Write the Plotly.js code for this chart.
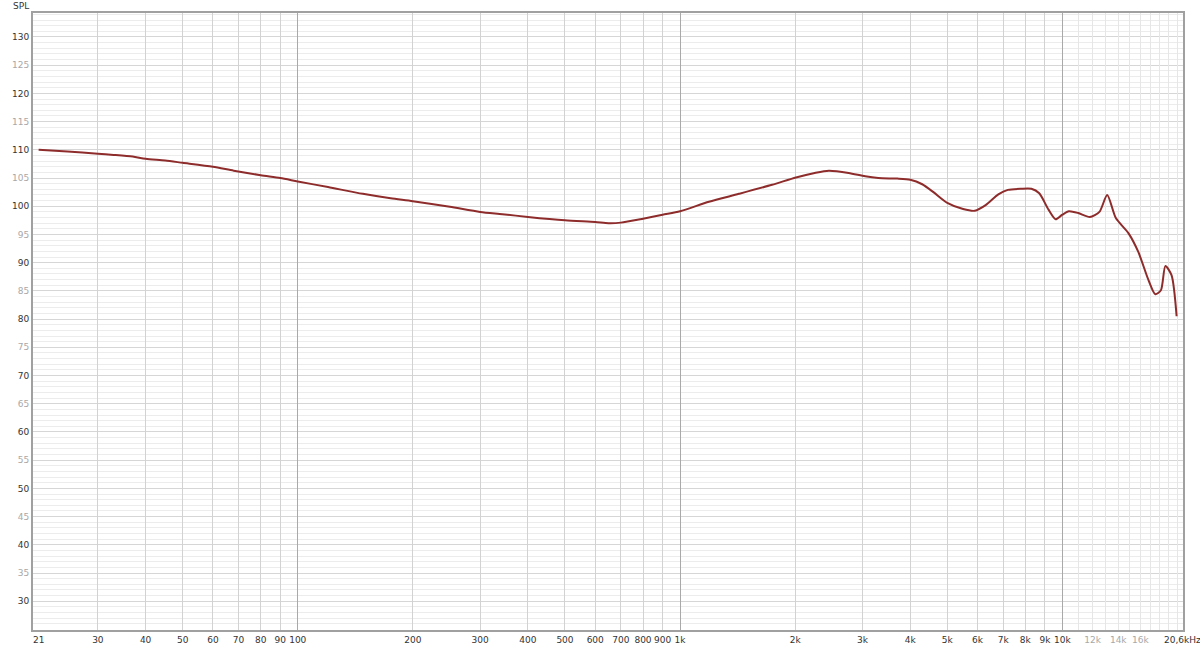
<!DOCTYPE html>
<html>
<head>
<meta charset="utf-8">
<script src="https://cdn.plot.ly/plotly-3.0.1.min.js"></script>
<style>
  html, body { margin: 0; padding: 0; background: #fff; }
  #fr { width: 1200px; height: 647px; }
</style>
</head>
<body>
<div id="fr"></div>
<script>
// frequency response
var freq = [21, 25, 30, 33, 37, 40, 45, 50, 60, 68, 80, 90, 100, 120, 148, 175, 200, 250, 300, 343,
    400, 500, 600, 650, 700, 800, 900, 1000, 1190, 1425, 1740, 2010, 2250, 2450, 2760, 3050, 3300,
    3700, 4000, 4300, 4600, 5000, 5500, 5900, 6300, 6800, 7200, 7800, 8300, 8700, 9200, 9600, 10000,
    10400, 11000, 11800, 12500, 13100, 13800, 14900, 15800, 16800, 17500, 18100, 18600, 19300, 19900];
var spl = [110.0, 109.7, 109.3, 109.1, 108.8, 108.4, 108.1, 107.7, 107.0, 106.3, 105.5, 105.0, 104.4,
    103.4, 102.2, 101.4, 100.9, 99.9, 99.0, 98.6, 98.1, 97.5, 97.2, 97.0, 97.1, 97.8, 98.5, 99.1,
    100.8, 102.2, 103.8, 105.1, 105.9, 106.3, 105.9, 105.3, 105.0, 104.9, 104.7, 103.9, 102.5, 100.6,
    99.5, 99.2, 100.2, 102.1, 102.9, 103.1, 103.1, 102.3, 99.4, 97.7, 98.5, 99.1, 98.8, 98.1, 99.0,
    102.0, 97.9, 95.2, 91.9, 86.9, 84.4, 85.1, 89.4, 87.8, 80.5];

// x tick labels (the light ones are drawn grey)
var xTicks = [21, 30, 40, 50, 60, 70, 80, 90, 100, 200, 300, 400, 500, 600, 700, 800, 900,
    1000, 2000, 3000, 4000, 5000, 6000, 7000, 8000, 9000, 10000, 12000, 14000, 16000, 20600];
var xLabels = ['21', '30', '40', '50', '60', '70', '80', '90', '100', '200', '300', '400', '500',
    '600', '700', '800', '900', '1k', '2k', '3k', '4k', '5k', '6k', '7k', '8k', '9k', '10k',
    '12k', '14k', '16k', '20,6kHz'];
var xLight = ['12k', '14k', '16k'];

// grid lines
var xGridMid = [30, 40, 50, 60, 70, 80, 90, 200, 300, 400, 500, 600, 700, 800, 900,
    2000, 3000, 4000, 5000, 6000, 7000, 8000, 9000];
var xGridHigh = [11000, 12000, 13000, 14000, 15000, 16000, 17000, 18000, 19000, 20000];
var xGridDecade = [100, 1000, 10000];

var yTicks = [];
for (var v = 30; v <= 130; v += 5) yTicks.push(v);

var dark = '#333333';
var light = '#a8a8a8';

var xText = xLabels.map(function (s) {
    return xLight.indexOf(s) >= 0 ? '<span style="color:' + light + '">' + s + '</span>' : s;
});
var yText = yTicks.map(function (v) {
    return v % 10 === 0 ? String(v) : '<span style="color:' + light + '">' + v + '</span>';
});

var xRange = [Math.log10(20.3), Math.log10(20680)];

// overlay x axis that only draws grid lines
function gridAxis(vals, color) {
    return {
        type: 'log', range: xRange, overlaying: 'x', side: 'bottom',
        tickmode: 'array', tickvals: vals, showticklabels: false, ticks: '',
        showgrid: true, gridcolor: color, gridwidth: 1,
        zeroline: false, showline: false
    };
}

var data = [
    {x: [], y: [], xaxis: 'x2', yaxis: 'y', type: 'scatter', mode: 'lines'},
    {x: [], y: [], xaxis: 'x3', yaxis: 'y', type: 'scatter', mode: 'lines'},
    {x: [], y: [], xaxis: 'x4', yaxis: 'y', type: 'scatter', mode: 'lines'},
    {
        x: freq, y: spl,
        type: 'scatter', mode: 'lines',
        line: {color: '#8e2c2c', width: 2, shape: 'spline', smoothing: 0.7},
        hoverinfo: 'x+y'
    }
];

var layout = {
    width: 1200,
    height: 647,
    margin: {l: 33, r: 17, t: 13, b: 17},
    paper_bgcolor: '#ffffff',
    plot_bgcolor: '#ffffff',
    showlegend: false,
    font: {family: 'DejaVu Sans, Verdana, sans-serif', size: 9, color: dark},
    xaxis: {
        type: 'log',
        range: xRange,
        tickmode: 'array',
        tickvals: xTicks,
        ticktext: xText,
        ticks: '',
        showgrid: false,
        zeroline: false,
        showline: true,
        mirror: true,
        linecolor: '#a0a0a0',
        linewidth: 2,
        ticklabeloverflow: 'allow',
        tickfont: {size: 9, color: dark}
    },
    xaxis2: gridAxis(xGridHigh, '#e6e6e6'),
    xaxis3: gridAxis(xGridMid, '#d2d2d2'),
    xaxis4: gridAxis(xGridDecade, '#a9a9a9'),
    yaxis: {
        range: [24.9, 134.25],
        tickmode: 'array',
        tickvals: yTicks,
        ticktext: yText,
        ticks: '',
        showgrid: true,
        gridcolor: '#d6d6d6',
        gridwidth: 1,
        zeroline: false,
        showline: true,
        mirror: true,
        linecolor: '#a0a0a0',
        linewidth: 2,
        tickfont: {size: 9, color: dark},
        minor: {dtick: 1, showgrid: true, gridcolor: '#ececec', gridwidth: 1, ticks: ''}
    },
    annotations: [{
        text: 'SPL',
        xref: 'paper', yref: 'paper',
        x: 0, y: 1,
        xanchor: 'left', yanchor: 'bottom',
        xshift: -22, yshift: 0,
        showarrow: false,
        font: {size: 9, color: dark}
    }]
};

Plotly.newPlot('fr', data, layout, {displayModeBar: false, staticPlot: true});
</script>
</body>
</html>
